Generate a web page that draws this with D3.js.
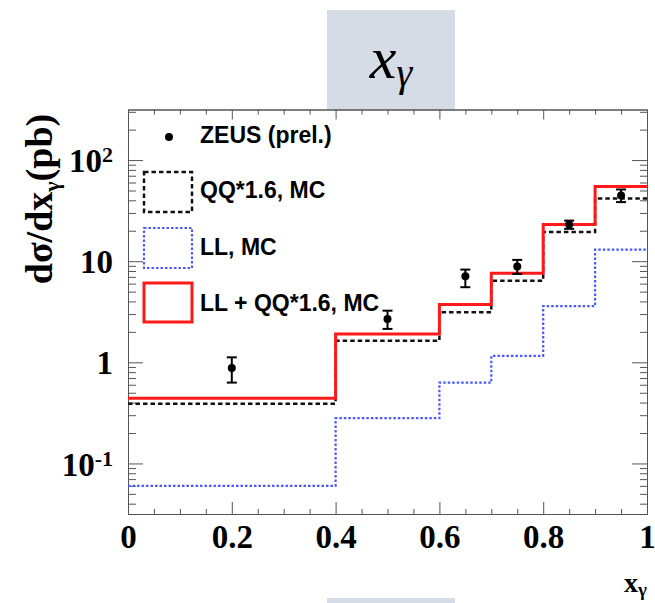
<!DOCTYPE html>
<html>
<head>
<meta charset="utf-8">
<script src="https://cdn.jsdelivr.net/npm/d3@7"></script>
<style>
  body { margin: 0; background: #fff; }
  svg { display: block; }
  .tick text { font-family: "Liberation Serif", "Times New Roman", serif; font-weight: bold; fill: #000; }
  .axis path, .axis line { stroke: #555; }
</style>
</head>
<body>
<div id="chart"></div>
<script>
// ---- data ----
var binEdges = [0, 0.4, 0.6, 0.7, 0.8, 0.9, 1.0];
var qqMC  = [0.39, 1.63, 3.13, 6.4, 19.4, 41.7];      // QQ*1.6, MC
var llMC  = [0.060, 0.28, 0.63, 1.16, 3.6, 13.0];     // LL, MC
var sumMC = [0.44, 1.91, 3.72, 7.6, 23.0, 54.8];      // LL + QQ*1.6, MC

var zeusX     = [0.2, 0.5, 0.65, 0.75, 0.85, 0.95];
var zeusY     = [0.88, 2.68, 7.1, 8.84, 23.0, 44.7];
var zeusErrHi = [1.12, 3.24, 8.26, 10.3, 25.2, 51.2];
var zeusErrLo = [0.63, 2.14, 5.53, 7.49, 20.9, 38.4];

var xMajor = [0, 0.2, 0.4, 0.6, 0.8, 1];
var yMajor = [0.1, 1, 10, 100];
var legendLabels = ["ZEUS (prel.)", "QQ*1.6, MC", "LL, MC", "LL + QQ*1.6, MC"];

// ---- layout ----
var svgW = 655, svgH = 603;
var margin = {left: 128, top: 109.5, right: 8, bottom: 89};
var width = svgW - margin.left - margin.right,
    height = svgH - margin.top - margin.bottom;

var svg = d3.select("#chart").append("svg")
  .attr("width", svgW)
  .attr("height", svgH);

// slide title box + bottom box
svg.append("rect").attr("x", 327).attr("y", 10).attr("width", 128).attr("height", 100).attr("fill", "#d6dce5");
svg.append("rect").attr("x", 327).attr("y", 598).attr("width", 128).attr("height", 5).attr("fill", "#d6dce5");
var title = svg.append("text")
  .attr("x", 391).attr("y", 78)
  .attr("text-anchor", "middle")
  .style("font-family", "'Liberation Serif', serif")
  .style("font-style", "italic");
title.append("tspan").style("font-size", "60px").text("x");
title.append("tspan").style("font-size", "40px").attr("dy", 8).text("γ");

var g = svg.append("g")
  .attr("transform", "translate(" + margin.left + "," + margin.top + ")");

var x = d3.scaleLinear().domain([0, 1]).range([0, width]);
var y = d3.scaleLog().domain([Math.pow(10, -1.5), Math.pow(10, 2.5)]).range([height, 0]);

// ---- ticks ----
var xMinor = d3.range(0, 1.0001, 0.05).filter(function(v) { return Math.abs(v * 5 - Math.round(v * 5)) > 1e-6; });
var yMinor = [];
[0.01, 0.1, 1, 10, 100].forEach(function(dec) {
  for (var k = 2; k <= 9; k++) {
    var v = dec * k;
    if (v >= y.domain()[0] && v <= y.domain()[1]) yMinor.push(v);
  }
});

function noLabels() { return ""; }

// bottom
g.append("g").attr("class", "axis")
  .attr("transform", "translate(0," + height + ")")
  .call(d3.axisBottom(x).tickValues(xMinor).tickSize(-5).tickFormat(noLabels).tickSizeOuter(0));
g.append("g").attr("class", "axis x-major")
  .attr("transform", "translate(0," + height + ")")
  .call(d3.axisBottom(x).tickValues(xMajor).tickSize(-12).tickPadding(11).tickSizeOuter(0)
    .tickFormat(function(d) { return d3.format("")(+d.toFixed(1)); }))
  .selectAll("text").style("font-size", "33px");
// top
g.append("g").attr("class", "axis")
  .call(d3.axisTop(x).tickValues(xMinor).tickSize(-5).tickFormat(noLabels).tickSizeOuter(0));
g.append("g").attr("class", "axis")
  .call(d3.axisTop(x).tickValues(xMajor).tickSize(-10).tickFormat(noLabels).tickSizeOuter(0));

// left
g.append("g").attr("class", "axis")
  .call(d3.axisLeft(y).tickValues(yMinor).tickSize(-8).tickFormat(noLabels).tickSizeOuter(0));
var yAx = g.append("g").attr("class", "axis")
  .call(d3.axisLeft(y).tickValues(yMajor).tickSize(-15).tickPadding(15).tickSizeOuter(0).tickFormat(noLabels));
yAx.selectAll(".tick text").each(function(d) {
  var t = d3.select(this).style("font-size", "33px").attr("dy", "0.35em");
  var e = Math.round(Math.log10(d));
  if (e === 0) { t.text("1"); }
  else if (e === 1) { t.text("10"); }
  else {
    t.append("tspan").text("10");
    t.append("tspan").attr("dy", "-0.45em").style("font-size", "22px").text(String(e));
  }
});
// right
g.append("g").attr("class", "axis")
  .attr("transform", "translate(" + width + ",0)")
  .call(d3.axisRight(y).tickValues(yMinor).tickSize(-7).tickFormat(noLabels).tickSizeOuter(0));
g.append("g").attr("class", "axis")
  .attr("transform", "translate(" + width + ",0)")
  .call(d3.axisRight(y).tickValues(yMajor).tickSize(-15).tickFormat(noLabels).tickSizeOuter(0));

// ---- histograms ----
function stepPoints(vals) {
  var pts = vals.map(function(v, i) { return [binEdges[i], v]; });
  pts.push([binEdges[binEdges.length - 1], vals[vals.length - 1]]);
  return pts;
}
var line = d3.line()
  .x(function(d) { return x(d[0]); })
  .y(function(d) { return y(d[1]); })
  .curve(d3.curveStepAfter);

var hists = [
  {vals: llMC,  color: "#4a5aff", width: 2.2, dash: "2.5,2"},
  {vals: qqMC,  color: "#111",    width: 2.5, dash: "4.5,3"},
  {vals: sumMC, color: "#ff1a1a", width: 3,   dash: null}
];
hists.forEach(function(h) {
  g.append("path")
    .datum(stepPoints(h.vals))
    .attr("d", line)
    .attr("fill", "none")
    .attr("stroke", h.color)
    .attr("stroke-width", h.width)
    .attr("stroke-dasharray", h.dash);
});

// ---- ZEUS points ----
var pts = g.append("g").selectAll("g")
  .data(zeusX.map(function(v, i) { return {x: v, y: zeusY[i], hi: zeusErrHi[i], lo: zeusErrLo[i]}; }))
  .enter().append("g");
pts.append("line")
  .attr("x1", function(d) { return x(d.x); }).attr("x2", function(d) { return x(d.x); })
  .attr("y1", function(d) { return y(d.hi); }).attr("y2", function(d) { return y(d.lo); })
  .attr("stroke", "#000").attr("stroke-width", 2);
["hi", "lo"].forEach(function(k) {
  pts.append("line")
    .attr("x1", function(d) { return x(d.x) - 5; }).attr("x2", function(d) { return x(d.x) + 5; })
    .attr("y1", function(d) { return y(d[k]); }).attr("y2", function(d) { return y(d[k]); })
    .attr("stroke", "#000").attr("stroke-width", 2);
});
pts.append("circle")
  .attr("cx", function(d) { return x(d.x); })
  .attr("cy", function(d) { return y(d.y); })
  .attr("r", 4).attr("fill", "#000");

// ---- legend ----
var leg = svg.append("g").style("font-family", "'Liberation Sans', Arial, sans-serif").style("font-weight", "bold").style("font-size", "23px");
leg.append("circle").attr("cx", 169).attr("cy", 137).attr("r", 4).attr("fill", "#000");
var legRows = [
  {y: 172, h: 40, color: "#111", width: 2.5, dash: "4.5,3"},
  {y: 228, h: 40, color: "#4a5aff", width: 2.2, dash: "2.5,2"},
  {y: 283, h: 39, color: "#ff1a1a", width: 3, dash: null}
];
legRows.forEach(function(r) {
  leg.append("rect").attr("x", 144).attr("y", r.y).attr("width", 48).attr("height", r.h)
    .attr("fill", "none").attr("stroke", r.color).attr("stroke-width", r.width).attr("stroke-dasharray", r.dash);
});
var legBase = [143, 198, 255, 311];
legendLabels.forEach(function(t, i) {
  leg.append("text").attr("x", 200).attr("y", legBase[i]).text(t);
});

// ---- axis titles ----
var yTitle = svg.append("text")
  .attr("transform", "translate(52,199) rotate(-90)")
  .attr("text-anchor", "middle")
  .style("font-family", "'Liberation Serif', serif")
  .style("font-weight", "bold")
  .style("font-size", "38px");
yTitle.append("tspan").text("dσ/dx");
yTitle.append("tspan").attr("dy", 7).style("font-size", "22px").text("γ");
yTitle.append("tspan").attr("dy", -7).text("(pb)");

var xTitle = svg.append("text")
  .attr("x", 647).attr("y", 592)
  .attr("text-anchor", "end")
  .style("font-family", "'Liberation Serif', serif")
  .style("font-weight", "bold")
  .style("font-size", "28px");
xTitle.append("tspan").text("x");
xTitle.append("tspan").attr("dy", 4).style("font-size", "19px").text("γ");
</script>
</body>
</html>
